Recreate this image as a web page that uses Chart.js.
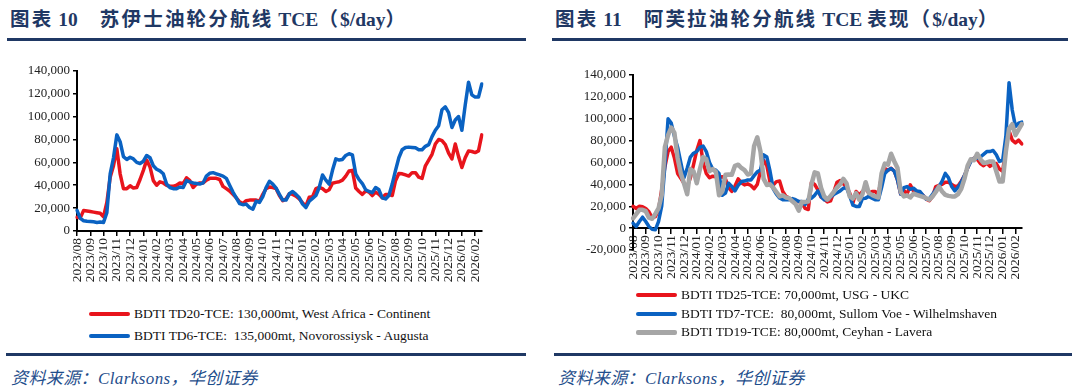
<!DOCTYPE html>
<html>
<head>
<meta charset="utf-8">
<script src="https://cdn.jsdelivr.net/npm/chart.js@4.4.1/dist/chart.umd.min.js"></script>
<style>
    body { margin: 0; width: 1080px; height: 388px; background: #fff; position: relative; overflow: hidden; font-family: 'Liberation Serif', 'Noto Sans CJK SC', serif; }
    .title { position: absolute; top: 3px; font-size: 19.5px; font-weight: bold; color: #1f3864; white-space: pre; }
    .title .cjk { letter-spacing: 2.2px; }
    .title .gap { margin-left: 22px; }
    .rule { position: absolute; height: 3px; background: #1f3864; }
    .source { position: absolute; top: 364px; font-size: 17px; font-style: italic; color: #1f4e8c; white-space: pre; letter-spacing: 0.4px; }
    canvas { position: absolute; }
    .legend { position: absolute; font-size: 13.5px; color: #111; }
    .leg-row { display: flex; align-items: center; white-space: pre; }
    .leg-line { display: inline-block; width: 41px; height: 4px; margin-right: 4px; border-radius: 2px; }
</style>
</head>
<body>
<div class="title" style="left:10px"><span class="cjk">图表</span> 10<span class="cjk gap">苏伊士油轮分航线</span> TCE<span class="cjk">（</span>$/day<span class="cjk">）</span></div>
<div class="rule" style="left:7px; width:519px; top:38px"></div>
<div class="title" style="left:555px"><span class="cjk">图表</span> 11<span class="cjk gap">阿芙拉油轮分航线</span> TCE <span class="cjk">表现（</span>$/day<span class="cjk">）</span></div>
<div class="rule" style="left:552px; width:516px; top:38px"></div>

<canvas id="c1" width="500" height="235" style="left:0; top:60px"></canvas>
<canvas id="c2" width="500" height="232" style="left:540px; top:60px"></canvas>

<div class="legend" id="leg1" style="left:89px; top:303px"></div>
<div class="legend" id="leg2" style="left:636px; top:286px"></div>

<div class="rule" style="left:6px; width:520px; top:353px"></div>
<div class="rule" style="left:554px; width:518px; top:353px"></div>
<div class="source" style="left:11px">资料来源：Clarksons，华创证券</div>
<div class="source" style="left:558px">资料来源：Clarksons，华创证券</div>

<script>
// month tick labels, weekly data (4 points per month, last month 3)
const months = ['2023/08','2023/09','2023/10','2023/11','2023/12','2024/01','2024/02','2024/03','2024/04','2024/05',
    '2024/06','2024/07','2024/08','2024/09','2024/10','2024/11','2024/12','2025/01','2025/02','2025/03',
    '2025/04','2025/05','2025/06','2025/07','2025/08','2025/09','2025/10','2025/11','2025/12','2026/01','2026/02'];

// Suezmax ($/day)
const td20 = [12000, 11500, 18000, 17500, 17000, 16500, 16000, 15500, 12500, 25000,
    47000, 57000, 72000, 50000, 37000, 37000, 39500, 37500, 38000, 45000,
    53000, 62000, 56000, 44000, 40000, 43000, 42000, 40000, 39000, 39000,
    40000, 42000, 41500, 46500, 44000, 38000, 41000, 42000, 42000, 44500,
    46000, 46000, 46000, 45000, 39000, 37000, 35000, 32000, 29000, 25500,
    24000, 26500, 27000, 27000, 27000, 26000, 32000, 37000,
    38500, 38000, 37000, 31000, 26500, 28000, 32500, 32000, 30500, 28000, 24500, 22000,
    29500, 30000, 37000, 38000, 37000, 34500, 36000, 41700, 42500, 43000,
    44500, 48000, 52500, 53000, 37500, 34500, 32000, 35000, 34000, 31000,
    34000, 32000, 29000, 32000, 32000, 31000, 44000, 50300, 50000, 49000,
    48000, 51000, 51000, 47000, 46000, 57000, 62000, 67000, 76000, 80000,
    79000, 75500, 68000, 63000, 76000, 65000, 55500, 64000, 70000, 69500,
    68500, 70000, 84000];
const td6 = [18000, 11000, 9000, 8500, 8300, 8000, 7500, 7800, 7500, 16000,
    50000, 64000, 84000, 78000, 65000, 62500, 64500, 63000, 60000, 59000,
    61000, 66000, 64000, 57000, 54000, 52500, 50000, 41000, 38000, 37000,
    37000, 38500, 38000, 44000, 43000, 42000, 41500, 41000, 42000, 48000,
    50500, 51000, 50000, 49000, 48000, 46000, 40000, 34000, 29000, 24000,
    23000, 23500, 20500, 19000, 26000, 25000, 30000, 38000,
    43500, 41000, 37500, 32000, 27000, 27000, 32500, 34500, 32000, 29000, 23500, 20500,
    26000, 28500, 31000, 38000, 49000, 44500, 41000, 53000, 63000, 62000,
    62500, 66000, 67500, 66500, 50000, 45000, 41500, 36000, 34500, 33500,
    38000, 36000, 29000, 28000, 31000, 41000, 53000, 64000, 71000, 73000,
    73300, 73000, 72700, 71000, 71000, 74000, 75500, 82500, 88000, 92000,
    106000, 108500, 103500, 90500, 97000, 100000, 88000, 110000, 130000, 119000,
    117000, 117000, 128500];

// Aframax ($/day)
const td25 = [20000, 18000, 20000, 19500, 18000, 15000, 9500, 10500, 16500, 35000,
    56000, 70000, 74000, 64000, 50000, 45600, 41000, 38000, 46000, 58000,
    71000, 80000, 60000, 50000, 46000, 47500, 47000, 46000, 47000, 45000,
    37000, 33500, 38500, 45000, 41500, 39500, 40500, 39000, 36000, 40000,
    52000, 62000, 57000, 42000, 39500, 42500, 43000, 33500, 29000, 27400,
    25500, 24300, 24300, 22800,
    18000, 17000, 42000, 40000, 35000, 28500,
    26500, 24000, 25000, 33000, 42000, 43500, 40500, 37500, 32000, 23000,
    33500, 30400, 33500, 36500, 32000, 33500, 33500, 30500, 48000, 54500,
    53000, 54800, 52000, 44000, 31000, 34500, 31000, 39500, 34000, 33500,
    32500, 30000, 26500, 25000, 29000, 38000, 39000, 40000, 42000, 42000,
    40000, 38000, 38500, 43000, 48000, 55000, 62000, 64000, 63000, 59000,
    57000, 59500, 56500, 58500, 59000, 54000, 52000, 73000, 89000, 80500,
    78000, 80500, 77000];
const td7 = [4500, 1500, 6000, 10000, 6000, 1500, -1000, -1500, 6000, 20000,
    57000, 100000, 96000, 84000, 74000, 60000, 46000, 54800, 65000, 68500,
    70000, 74000, 75000, 70000, 60000, 54000, 53000, 50000, 30000, 32000,
    41000, 38000, 34000, 39000, 42600, 43000, 44000, 44000, 48000, 51500,
    53000, 67000, 65000, 52000, 36000, 31000, 27500, 26000, 26000, 26000,
    27000, 26000, 24300, 24300,
    21500, 26500, 27500, 30000, 34000, 29000,
    26000, 26000, 28500, 30700, 32300, 34000, 36500, 37000, 29500, 21000,
    19800, 19800, 27000, 27400, 29000, 27400, 25900, 25900, 37000, 50000,
    53000, 54500, 52000, 44000, 31000, 37000, 38000, 35500, 36500, 34000,
    33500, 30000, 26500, 27000, 31000, 35000, 38000, 43000, 50000, 46000,
    38000, 34000, 37500, 42000, 48000, 55000, 61000, 64000, 64000, 65000,
    67500, 70000, 70000, 71000, 67000, 61000, 62000, 84000, 133000, 108000,
    93000, 96000, 97000];
const td19 = [9000, 12800, 16700, 16700, 15500, 9500, 8500, 13000, 18000, 30000,
    74000, 85000, 92000, 87000, 64000, 50000, 41000, 31000, 54000, 52000,
    41000, 54000, 65000, 63000, 52000, 54000, 51500, 30000, 33500, 48700,
    49000, 48700, 57000, 58000, 55000, 53000, 49000, 50000, 75000, 83000,
    70000, 45000, 39500, 40000, 37000, 33000, 29000, 30000, 28000, 27400,
    24500, 22000, 16000, 24000,
    24000, 24300, 40000, 51000, 50000, 37000,
    29000, 26000, 29500, 33000, 37000, 40000, 45000, 41000, 29000, 27000,
    32000, 26000, 31000, 42000, 32000, 30400, 29000, 28000, 50000, 59000,
    58000, 68000, 61000, 55000, 33000, 29000, 30000, 28000, 31500, 30500,
    29500, 28500, 27400, 26000, 29000, 33000, 38000, 33500, 30400, 29500,
    29000, 29000, 31000, 36000, 45000, 57000, 63000, 62000, 68000, 63000,
    59500, 60000, 61000, 61000, 52000, 42600, 42600, 70000, 91000, 95000,
    85000, 90000, 95000];

const RED = '#e8141c', BLUE = '#0a62c2', GREY = '#a6a6a6';
const AXIS_FONT = { family: "'Liberation Serif', serif", size: 13 };

// weekly categories: month name on the first week, blank otherwise
const weeks = [];
months.forEach((m, k) => {
    const n = k === months.length - 1 ? 3 : 4;
    for (let j = 0; j < n; j++) weeks.push(j === 0 ? m : '');
});

function lineSet(label, data, color, width, order) {
    return {
        label: label, data: data, borderColor: color, backgroundColor: color,
        borderWidth: width, pointRadius: 0, tension: 0, order: order,
        borderJoinStyle: 'round', borderCapStyle: 'round'
    };
}

function makeOptions(cfg) {
    return {
        responsive: false,
        devicePixelRatio: 1,
        animation: false,
        layout: { padding: cfg.padding },
        plugins: { legend: { display: false }, tooltip: { enabled: false } },
        scales: {
            x: {
                type: 'category',
                position: cfg.xPos,
                afterFit: s => { s.height = cfg.xHeight; },
                border: { display: true, color: '#000', width: 2 },
                grid: {
                    drawOnChartArea: false, drawTicks: true, tickLength: 5, lineWidth: 1.5,
                    color: c => (c.index % 4 === 0 ? '#000' : 'rgba(0,0,0,0)')
                },
                ticks: {
                    autoSkip: false, maxRotation: 90, minRotation: 90, padding: 2,
                    color: '#222', font: { family: AXIS_FONT.family, size: 13.5 }
                }
            },
            y: {
                min: cfg.yMin, max: 140000,
                afterFit: s => { s.width = cfg.yWidth; },
                border: { display: true, color: '#000', width: 2 },
                grid: { drawOnChartArea: false, drawTicks: true, tickLength: 4, color: '#000', lineWidth: 1.5 },
                ticks: {
                    stepSize: 20000, padding: 3, color: '#222', font: AXIS_FONT,
                    callback: v => v.toLocaleString('en-US')
                }
            }
        }
    };
}

function buildLegend(id, chart) {
    const el = document.getElementById(id);
    chart.data.datasets.forEach(ds => {
        const row = document.createElement('div');
        row.className = 'leg-row';
        row.style.height = id === 'leg1' ? '22px' : '18.5px';
        row.innerHTML = `<span class="leg-line" style="background:${ds.borderColor}; height:${ds.borderWidth + 0.5}px"></span><span>${ds.label}</span>`;
        el.appendChild(row);
    });
}

const chart1 = new Chart(document.getElementById('c1'), {
    type: 'line',
    data: {
        labels: weeks,
        datasets: [
            lineSet('BDTI TD20-TCE: 130,000mt, West Africa - Continent', td20, RED, 3.5, 2),
            lineSet('BDTI TD6-TCE:  135,000mt, Novorossiysk - Augusta', td6, BLUE, 3.5, 1)
        ]
    },
    options: makeOptions({ padding: { top: 9, right: 9, bottom: 0, left: 0 }, xPos: 'bottom', xHeight: 64, yWidth: 77, yMin: 0 })
});

// x axis sits on the zero line; its labels hang into the reserved bottom padding
const chart2 = new Chart(document.getElementById('c2'), {
    type: 'line',
    data: {
        labels: weeks,
        datasets: [
            lineSet('BDTI TD25-TCE: 70,000mt, USG - UKC', td25, RED, 3.5, 3),
            lineSet('BDTI TD7-TCE:  80,000mt, Sullom Voe - Wilhelmshaven', td7, BLUE, 3.5, 2),
            lineSet('BDTI TD19-TCE: 80,000mt, Ceyhan - Lavera', td19, GREY, 4.5, 1)
        ]
    },
    options: makeOptions({ padding: { top: 15, right: 7, bottom: 42, left: 0 }, xPos: { y: 0 }, xHeight: 42, yWidth: 93, yMin: -20000 })
});

buildLegend('leg1', chart1);
buildLegend('leg2', chart2);
</script>
</body>
</html>
